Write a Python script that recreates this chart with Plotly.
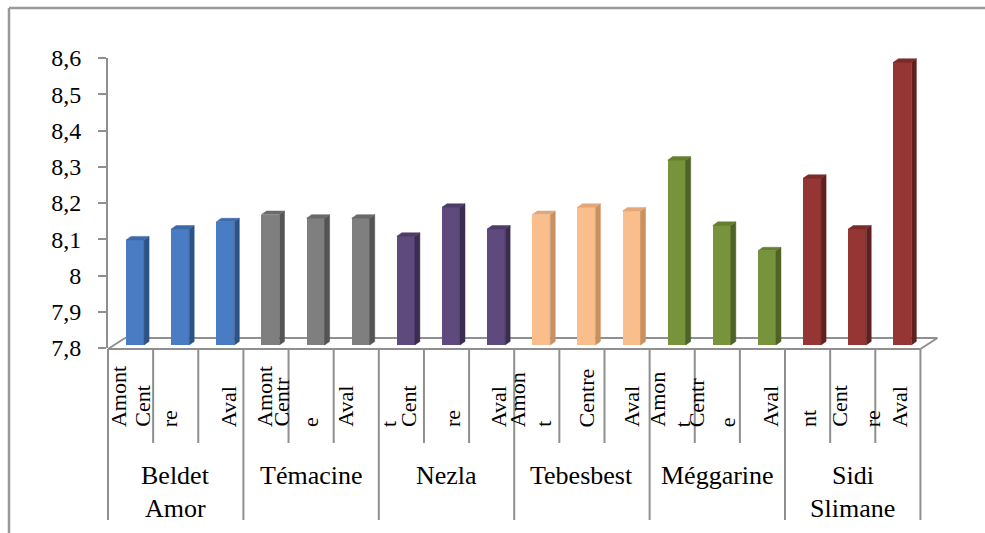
import plotly.graph_objects as go

# ---- data: pH per site and sampling point ----
sites = ["Beldet Amor", "Témacine", "Nezla", "Tebesbest", "Méggarine", "Sidi Slimane"]
stations = ["Amont", "Centre", "Aval"]
beldet_amor = [8.09, 8.12, 8.14]
temacine = [8.16, 8.15, 8.15]
nezla = [8.10, 8.18, 8.12]
tebesbest = [8.16, 8.18, 8.17]
meggarine = [8.31, 8.13, 8.06]
sidi_slimane = [8.26, 8.12, 8.58]
y_ticks = [7.8, 7.9, 8.0, 8.1, 8.2, 8.3, 8.4, 8.5, 8.6]
y_ticktext = ["7,8", "7,9", "8", "8,1", "8,2", "8,3", "8,4", "8,5", "8,6"]

series = [beldet_amor, temacine, nezla, tebesbest, meggarine, sidi_slimane]

# ---- styling ----
FONT = "Times New Roman, Liberation Serif, Tinos, DejaVu Serif, serif"
GRID = "#8f8f8f"
front_cols = ["#4A7CC4", "#7F7F7F", "#5F4A7E", "#F9BE8C", "#77933C", "#963634"]
side_cols = ["#2C5287", "#545454", "#3B2C52", "#C8915F", "#4F6327", "#5F2120"]
top_cols = ["#3D69A8", "#6A6A6A", "#4E3C6A", "#E5A776", "#64802F", "#7D2B29"]

W, H = 985, 533
PL, PR, PT, PB = 108, 42, 58, 185
PW, PH = W - PL - PR, H - PT - PB
X0, X1 = -0.5, 18.0
Y0, Y1 = 7.8, 8.6
cat_px = PW / (X1 - X0)
val_px = PH / (Y1 - Y0)


def paper_x(px):
    return (px - PL) / PW


def paper_y(py):
    return (H - PB - py) / PH


def cat_edge_px(k):
    return PL + (k - 0.5 - X0) * cat_px


# bar geometry (category / value units)
bar_w = 18 / cat_px
bar_shift = 4.5 / cat_px
lift = 3 / val_px
depth_x = 5 / cat_px
depth_y = 3.5 / val_px

values = [v for s in series for v in s]
colors = [front_cols[g] for g, s in enumerate(series) for _ in s]
xs = [i + bar_shift for i in range(len(values))]

fig = go.Figure()
fig.add_trace(go.Bar(
    x=xs, y=[v - Y0 for v in values], base=Y0 + lift, width=bar_w,
    marker=dict(color=colors, line=dict(width=0)),
    hoverinfo="skip", showlegend=False,
))

# side and top faces of the columns
idx = 0
for g, s in enumerate(series):
    sx, sy, tx, ty = [], [], [], []
    for v in s:
        xl = xs[idx] - bar_w / 2
        xr = xs[idx] + bar_w / 2
        b = Y0 + lift
        t = v + lift
        sx += [xr, xr + depth_x, xr + depth_x, xr, xr, None]
        sy += [b, b + depth_y, t + depth_y, t, b, None]
        tx += [xl, xl + depth_x, xr + depth_x, xr, xl, None]
        ty += [t, t + depth_y, t + depth_y, t, t, None]
        idx += 1
    fig.add_trace(go.Scatter(x=sx, y=sy, mode="lines", fill="toself",
                             fillcolor=side_cols[g], line=dict(width=0.5, color=side_cols[g]),
                             hoverinfo="skip", showlegend=False))
    fig.add_trace(go.Scatter(x=tx, y=ty, mode="lines", fill="toself",
                             fillcolor=top_cols[g], line=dict(width=0.5, color=top_cols[g]),
                             hoverinfo="skip", showlegend=False))

shapes = []


def seg(x0, y0, x1, y1, color=GRID, width=2):
    shapes.append(dict(type="line", xref="paper", yref="paper",
                       x0=paper_x(x0), y0=paper_y(y0), x1=paper_x(x1), y1=paper_y(y1),
                       line=dict(color=color, width=width), layer="below"))


# floor of the 3-D plot
n = len(values)
fl, fr = cat_edge_px(0), cat_edge_px(n)
fy = H - PB + 1
dxp, dyp = 17, -11
seg(fl, fy, fr, fy)
seg(fl + dxp, fy + dyp, fr + dxp, fy + dyp)
seg(fl, fy, fl + dxp, fy + dyp)
seg(fr, fy, fr + dxp, fy + dyp)

# category table separators
for k in range(n + 1):
    xb = cat_edge_px(k)
    seg(xb, fy, xb, 520 if k % 3 == 0 else 443)

# outer chart frame
seg(9, 8, W + 5, 8, color="#9a9a9a", width=2.5)
seg(9, 8, 9, H + 5, color="#9a9a9a", width=2.5)

# wrapped station labels: (split index, pixel offsets of each line)
wraps = [
    (None, [-12]), (4, [-34, -6]), (None, [8]),
    (None, [-1.5]), (5, [-30.5, -1]), (None, [-11]),
    (4, [None, -13.5]), (4, [-38.5, 6]), (None, [7]),
    (4, [-19, 6]), (None, [5]), (None, [4.5]),
    (4, [-15, 10]), (5, [-21, 10]), (None, [8]),
    (3, [None, 1]), (4, [-14, 20]), (None, [2]),
]
annotations = []
for i, (cut, offs) in enumerate(wraps):
    name = stations[i % 3]
    parts = [name] if cut is None else [name[:cut], name[cut:]]
    cx = PL + (i - X0) * cat_px
    for part, off in zip(parts, offs):
        if off is None:
            continue
        annotations.append(dict(
            text=part, textangle=-90, showarrow=False,
            xref="paper", yref="paper", x=paper_x(cx + off), y=paper_y(429),
            xanchor="center", yanchor="bottom",
            font=dict(family=FONT, size=22, color="black"),
        ))

# site labels
for g, site in enumerate(sites):
    cx = (cat_edge_px(3 * g) + cat_edge_px(3 * g + 3)) / 2
    for j, line in enumerate(site.split(" ")):
        annotations.append(dict(
            text=line, showarrow=False,
            xref="paper", yref="paper", x=paper_x(cx), y=paper_y(475 + 33 * j),
            xanchor="center", yanchor="middle",
            font=dict(family=FONT, size=26, color="black"),
        ))

fig.update_layout(
    width=W, height=H,
    margin=dict(l=PL, r=PR, t=PT, b=PB, pad=0),
    paper_bgcolor="white", plot_bgcolor="white",
    showlegend=False, bargap=0,
    xaxis=dict(range=[X0, X1], visible=False, fixedrange=True),
    yaxis=dict(
        range=[Y0, Y1], tickvals=y_ticks, ticktext=y_ticktext,
        ticks="outside", ticklen=8, tickwidth=2, tickcolor=GRID,
        showline=True, linecolor=GRID, linewidth=2,
        showgrid=False, zeroline=False, ticklabelstandoff=12,
        tickfont=dict(family=FONT, size=24, color="black"), fixedrange=True,
    ),
    shapes=shapes, annotations=annotations,
)

fig.write_html("out.html")
